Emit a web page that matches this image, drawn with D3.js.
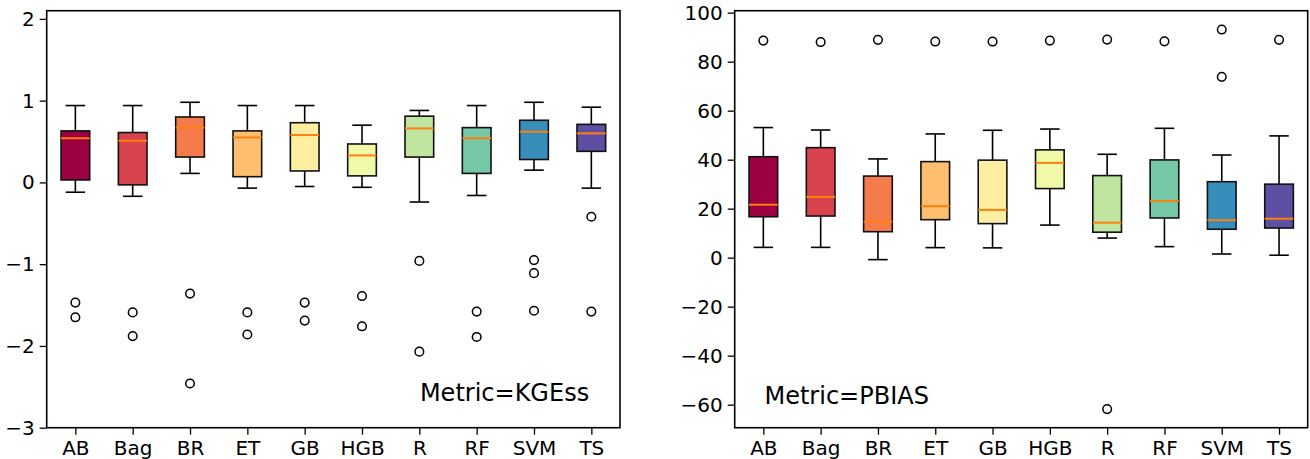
<!DOCTYPE html>
<html>
<head>
<meta charset="utf-8">
<script src="https://cdn.jsdelivr.net/npm/d3@7"></script>
<style>
  body { margin: 0; background: #fff; }
  svg { display: block; }
  svg text { font-family: "DejaVu Sans", sans-serif; }
</style>
</head>
<body>
<div id="chart"></div>
<script>
// categories (models)
var models = ["AB", "Bag", "BR", "ET", "GB", "HGB", "R", "RF", "SVM", "TS"];

// KGEss box stats
var kgeLow  = [-0.12, -0.17, 0.11, -0.07, -0.05, -0.06, -0.24, -0.16, 0.15, -0.07];
var kgeQ1   = [0.03, -0.03, 0.31, 0.07, 0.14, 0.08, 0.31, 0.11, 0.28, 0.38];
var kgeMed  = [0.54, 0.51, 0.67, 0.55, 0.58, 0.33, 0.66, 0.54, 0.62, 0.60];
var kgeQ3   = [0.63, 0.61, 0.80, 0.63, 0.73, 0.47, 0.81, 0.67, 0.76, 0.71];
var kgeHigh = [0.94, 0.94, 0.98, 0.94, 0.94, 0.70, 0.88, 0.94, 0.98, 0.92];
var kgeOut  = [[-1.47, -1.65], [-1.59, -1.88], [-1.36, -2.46], [-1.59, -1.86], [-1.47, -1.69],
               [-1.39, -1.76], [-0.96, -2.07], [-1.58, -1.89], [-0.95, -1.11, -1.57], [-0.42, -1.58]];

// PBIAS box stats
var pbLow  = [4.2, 4.2, -0.8, 4.1, 4.0, 13.3, 8.0, 4.5, 1.5, 1.0];
var pbQ1   = [16.7, 17.0, 10.6, 15.5, 13.9, 28.2, 10.4, 16.2, 11.6, 12.1];
var pbMed  = [21.6, 24.8, 14.7, 21.0, 19.5, 38.7, 14.3, 23.1, 15.3, 15.9];
var pbQ3   = [41.2, 44.9, 33.3, 39.2, 39.8, 44.0, 33.5, 39.9, 31.0, 30.0];
var pbHigh = [53.1, 52.1, 40.3, 50.5, 52.0, 52.5, 42.2, 52.8, 41.9, 49.7];
var pbOut  = [[88.6], [88.0], [88.9], [88.2], [88.2], [88.6], [89.0, -61.8], [88.3], [93.1, 73.8], [88.9]];

var kgeTicks = [-3, -2, -1, 0, 1, 2];
var pbTicks = [-60, -40, -20, 0, 20, 40, 60, 80, 100];

// Spectral, 10 steps
var colors = ["#9e0142", "#d8434e", "#f67b4a", "#fdbf6f", "#feeea2",
              "#f1f9a9", "#bfe5a0", "#75c8a5", "#388eba", "#5e4fa2"];

var W = 1310, H = 459;
var svg = d3.select("#chart").append("svg")
    .attr("width", W)
    .attr("height", H);

function drawPanel(p) {
  var x = d3.scaleLinear().domain([0.5, models.length + 0.5]).range([p.left, p.right]);
  var y = d3.scaleLinear().domain(p.domain).range([p.bottom, p.top]);
  var g = svg.append("g");
  var boxW = x(1.25) - x(0.75);
  var capW = x(1.17) - x(0.83);

  models.forEach(function(m, i) {
    var cx = x(i + 1);
    // whiskers
    g.append("line").attr("x1", cx).attr("x2", cx)
      .attr("y1", y(p.low[i])).attr("y2", y(p.q1[i]))
      .attr("stroke", "#000").attr("stroke-width", 1.6);
    g.append("line").attr("x1", cx).attr("x2", cx)
      .attr("y1", y(p.q3[i])).attr("y2", y(p.high[i]))
      .attr("stroke", "#000").attr("stroke-width", 1.6);
    // caps
    [p.low[i], p.high[i]].forEach(function(v) {
      g.append("line").attr("x1", cx - capW / 2).attr("x2", cx + capW / 2)
        .attr("y1", y(v)).attr("y2", y(v))
        .attr("stroke", "#000").attr("stroke-width", 1.6);
    });
    // box
    g.append("rect")
      .attr("x", cx - boxW / 2)
      .attr("y", y(p.q3[i]))
      .attr("width", boxW)
      .attr("height", y(p.q1[i]) - y(p.q3[i]))
      .attr("fill", colors[i])
      .attr("stroke", "#111").attr("stroke-width", 1.6);
    // median
    g.append("line").attr("x1", cx - boxW / 2).attr("x2", cx + boxW / 2)
      .attr("y1", y(p.med[i])).attr("y2", y(p.med[i]))
      .attr("stroke", "#ff7f0e").attr("stroke-width", 2);
    // fliers
    p.out[i].forEach(function(v) {
      g.append("circle").attr("cx", cx).attr("cy", y(v)).attr("r", 4.3)
        .attr("fill", "none").attr("stroke", "#000").attr("stroke-width", 1.5);
    });
  });

  // axes
  var yAxis = d3.axisLeft(y).tickValues(p.ticks).tickSize(7).tickPadding(5)
      .tickFormat(function(d) { return d < 0 ? "\u2212" + Math.abs(d) : d; });
  var yg = g.append("g").attr("transform", "translate(" + p.left + ",0)").call(yAxis);
  var xAxis = d3.axisBottom(x).tickValues(d3.range(1, models.length + 1)).tickSize(7).tickPadding(6)
      .tickFormat(function(d) { return models[d - 1]; });
  var xg = g.append("g").attr("transform", "translate(0," + p.bottom + ")").call(xAxis);
  [yg, xg].forEach(function(a) {
    a.attr("font-family", null).attr("font-size", null);
    a.select(".domain").remove();
    a.selectAll(".tick line").attr("stroke", "#000").attr("stroke-width", 1.3);
    a.selectAll(".tick text").style("font-size", "20px").attr("fill", "#000");
  });

  g.append("rect")
    .attr("x", p.left).attr("y", p.top)
    .attr("width", p.right - p.left).attr("height", p.bottom - p.top)
    .attr("fill", "none").attr("stroke", "#000").attr("stroke-width", 1.6);

  g.append("text")
    .attr("x", p.left + (p.right - p.left) * p.labelX)
    .attr("y", y(p.labelY))
    .style("font-size", "24px")
    .attr("fill", "#000")
    .text(p.label);
}

drawPanel({
  left: 46.7, right: 620, top: 10.7, bottom: 427.7,
  domain: [-3, 2.1], ticks: kgeTicks,
  low: kgeLow, q1: kgeQ1, med: kgeMed, q3: kgeQ3, high: kgeHigh, out: kgeOut,
  label: "Metric=KGEss", labelX: 0.651, labelY: -2.67
});

drawPanel({
  left: 734.7, right: 1307.7, top: 10.7, bottom: 427.7,
  domain: [-69.4, 100.8], ticks: pbTicks,
  low: pbLow, q1: pbQ1, med: pbMed, q3: pbQ3, high: pbHigh, out: pbOut,
  label: "Metric=PBIAS", labelX: 0.052, labelY: -59.7
});
</script>
</body>
</html>
